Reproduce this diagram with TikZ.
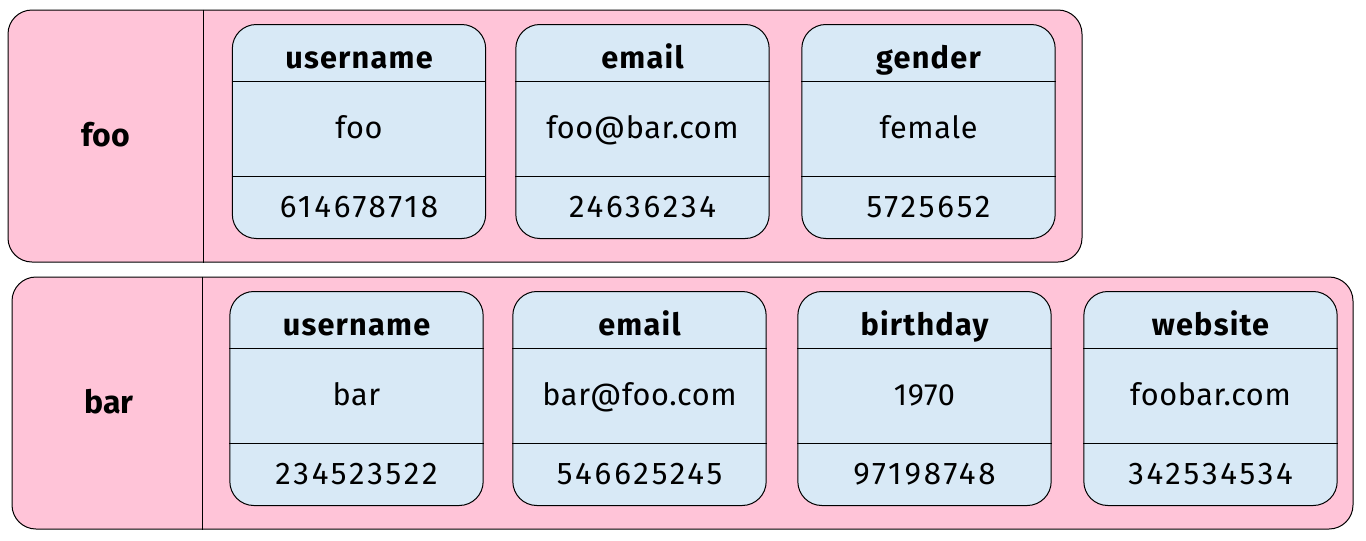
\documentclass[tikz,border=0pt]{standalone}
\usepackage{fontspec}
\setmainfont{Fira Sans}
\usepackage{tikz}
\usetikzlibrary{positioning, calc}

\definecolor{rowpink}{RGB}{255,196,216}
\definecolor{cardblue}{RGB}{216,233,246}

\begin{document}
\begin{tikzpicture}[
    x=0.75pt, y=-0.75pt,
    rowbox/.style={rectangle, draw=black, fill=rowpink, line width=0.75pt, rounded corners=18pt, minimum height=189pt},
    card/.style={rectangle, draw=black, fill=cardblue, line width=0.75pt, rounded corners=18pt, minimum width=190pt, minimum height=160.5pt},
    rowlabel/.style={anchor=base, font=\bfseries\fontsize{24}{28}\selectfont},
    head/.style={anchor=base, font=\bfseries\fontsize{23}{27}\selectfont\addfontfeature{LetterSpace=4}},
    val/.style={anchor=base, font=\fontsize{23}{27}\selectfont\addfontfeature{LetterSpace=2}},
    num/.style={anchor=base, font=\fontsize{23.5}{27}\selectfont\addfontfeature{LetterSpace=9}}
]
\useasboundingbox (0,0) rectangle (1366,540);

% the two records
\node[rowbox, minimum width=805.5pt] (foo) at (545,136) {};
\node[rowbox, minimum width=1005.75pt] (bar) at (682.5,403) {};
\draw[line width=0.75pt] (foo.north west -| 203,0) -- (foo.south west -| 203,0);
\draw[line width=0.75pt] (bar.north west -| 202,0) -- (bar.south west -| 202,0);
\node[rowlabel] (foo-label) at (105.5,146) {foo};
\node[rowlabel] (bar-label) at (109,413) {bar};

% fields: name / centre x / top y / key / value / number
\foreach \c/\cx/\ty/\k/\v/\n in {
    fu/359/24/username/foo/614678718,
    fe/642.5/24/email/foo@bar.com/24636234,
    fg/928.5/24/gender/female/5725652,
    bu/356.5/291/username/bar/234523522,
    be/639.5/291/email/bar@foo.com/546625245,
    bb/924.5/291/birthday/1970/97198748,
    bw/1210.5/291/website/foobar.com/342534534} {
  \node[card] (\c) at (\cx,\ty+107.5) {};
  \draw[line width=0.75pt] ($(\c.north west)+(0,57)$) -- ($(\c.north east)+(0,57)$);
  \draw[line width=0.75pt] ($(\c.south west)+(0,-63)$) -- ($(\c.south east)+(0,-63)$);
  \node[head] (\c-key) at ($(\c.north)+(0,44)$) {\k};
  \node[val] (\c-val) at ($(\c.north)+(0,114)$) {\v};
  \node[num] (\c-num) at ($(\c.north)+(0,193)$) {\n};
}

\end{tikzpicture}
\end{document}
